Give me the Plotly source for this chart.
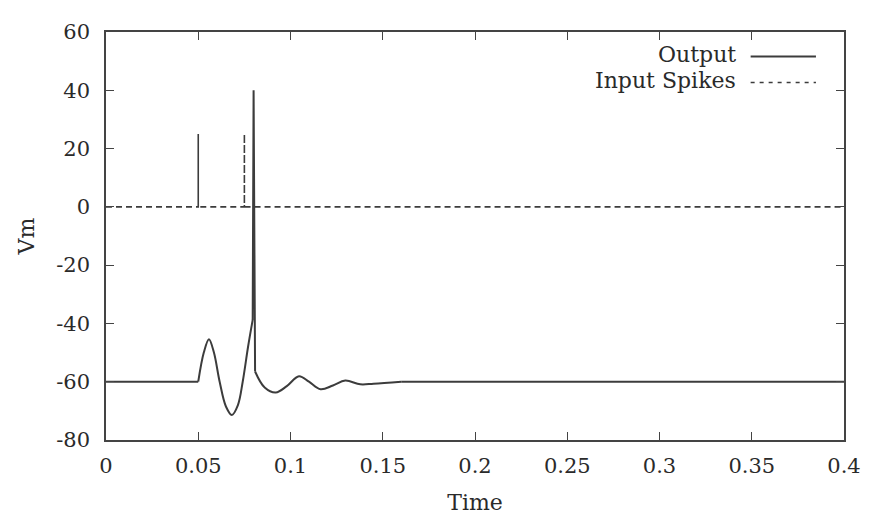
import plotly.graph_objects as go

# Output membrane potential
out_time = [0.0, 0.050, 0.053, 0.0558, 0.0585, 0.0616, 0.065, 0.0682, 0.0715,
            0.0741, 0.077, 0.0795, 0.0800, 0.0808, 0.086, 0.092, 0.098, 0.1046, 0.110,
            0.1163, 0.123, 0.1297, 0.1378, 0.145, 0.16, 0.4]
out_vm = [-60, -60, -50, -45.4, -50, -60, -68.5, -71.4, -68,
          -60, -48, -38.8, 40, -56.5, -62, -63.7, -61.5, -58.1, -60,
          -62.6, -61.3, -59.6, -60.9, -60.7, -60, -60]

# Input spikes
spike_times = [0.05, 0.075]
spike_height = 25
t_start, t_end = 0.0, 0.4

x_tick_vals = [0, 0.05, 0.1, 0.15, 0.2, 0.25, 0.3, 0.35, 0.4]
x_tick_text = ["0", "0.05", "0.1", "0.15", "0.2", "0.25", "0.3", "0.35", "0.4"]
y_tick_vals = [-80, -60, -40, -20, 0, 20, 40, 60]
y_tick_text = ["-80", "-60", "-40", "-20", "0", "20", "40", "60"]

# build spike trace
sx, sy = [t_start], [0]
for t in spike_times:
    sx += [t, t, t]
    sy += [0, spike_height, 0]
sx.append(t_end)
sy.append(0)

LINE = "#3c3c3c"
TXT = "#2a2a2a"
FONT = "DejaVu Serif"

fig = go.Figure()
fig.add_trace(go.Scatter(x=sx, y=sy, mode="lines", name="Input Spikes",
                         line=dict(color=LINE, width=1.6, dash="6px,4px"), showlegend=False))

# Output drawn piecewise: smooth oscillations, straight flat parts and spike
i_start = out_time.index(0.050)
i_pre = out_time.index(0.0795)
i_post = out_time.index(0.0808)
i_flat = out_time.index(0.16)
segments = [(0, i_start, "linear"), (i_start, i_pre, "spline"), (i_pre, i_post, "linear"),
            (i_post, i_flat, "spline"), (i_flat, len(out_time) - 1, "linear")]
for a, b, shape in segments:
    fig.add_trace(go.Scatter(x=out_time[a:b + 1], y=out_vm[a:b + 1], mode="lines", name="Output",
                             line=dict(color=LINE, width=2, shape=shape),
                             showlegend=False))

# legend (text to the left of sample line, gnuplot style)
fig.add_annotation(xref="paper", yref="paper", x=0.856, y=0.946, text="Output",
                   showarrow=False, xanchor="right", yanchor="middle",
                   font=dict(family=FONT, size=22, color=TXT))
fig.add_annotation(xref="paper", yref="paper", x=0.856, y=0.881, text="Input Spikes",
                   showarrow=False, xanchor="right", yanchor="middle",
                   font=dict(family=FONT, size=22, color=TXT))
fig.add_shape(type="line", xref="paper", yref="paper", x0=0.8735, x1=0.962, y0=0.940, y1=0.940,
              line=dict(color=LINE, width=2))
fig.add_shape(type="line", xref="paper", yref="paper", x0=0.8735, x1=0.962, y0=0.876, y1=0.876,
              line=dict(color=LINE, width=1.5, dash="4px,5px"))

axis_common = dict(showgrid=False, zeroline=False, showline=True, linecolor="#444",
                   linewidth=1.5, mirror="allticks", ticks="inside", ticklen=8,
                   tickcolor="#444", tickwidth=1.3,
                   tickfont=dict(family=FONT, size=21, color=TXT))

fig.update_layout(
    width=865, height=515,
    margin=dict(l=98, r=24, t=12, b=82),
    paper_bgcolor="white", plot_bgcolor="white",
    xaxis=dict(range=[0, 0.4], tickvals=x_tick_vals, ticktext=x_tick_text,
               title=dict(text="Time", font=dict(family=FONT, size=22, color=TXT), standoff=18),
               ticklabelstandoff=6, **axis_common),
    yaxis=dict(range=[-80, 60], tickvals=y_tick_vals, ticktext=y_tick_text,
               title=dict(text="Vm", font=dict(family=FONT, size=22, color=TXT), standoff=16),
               ticklabelstandoff=10, **axis_common),
)

fig.write_html("out.html")
